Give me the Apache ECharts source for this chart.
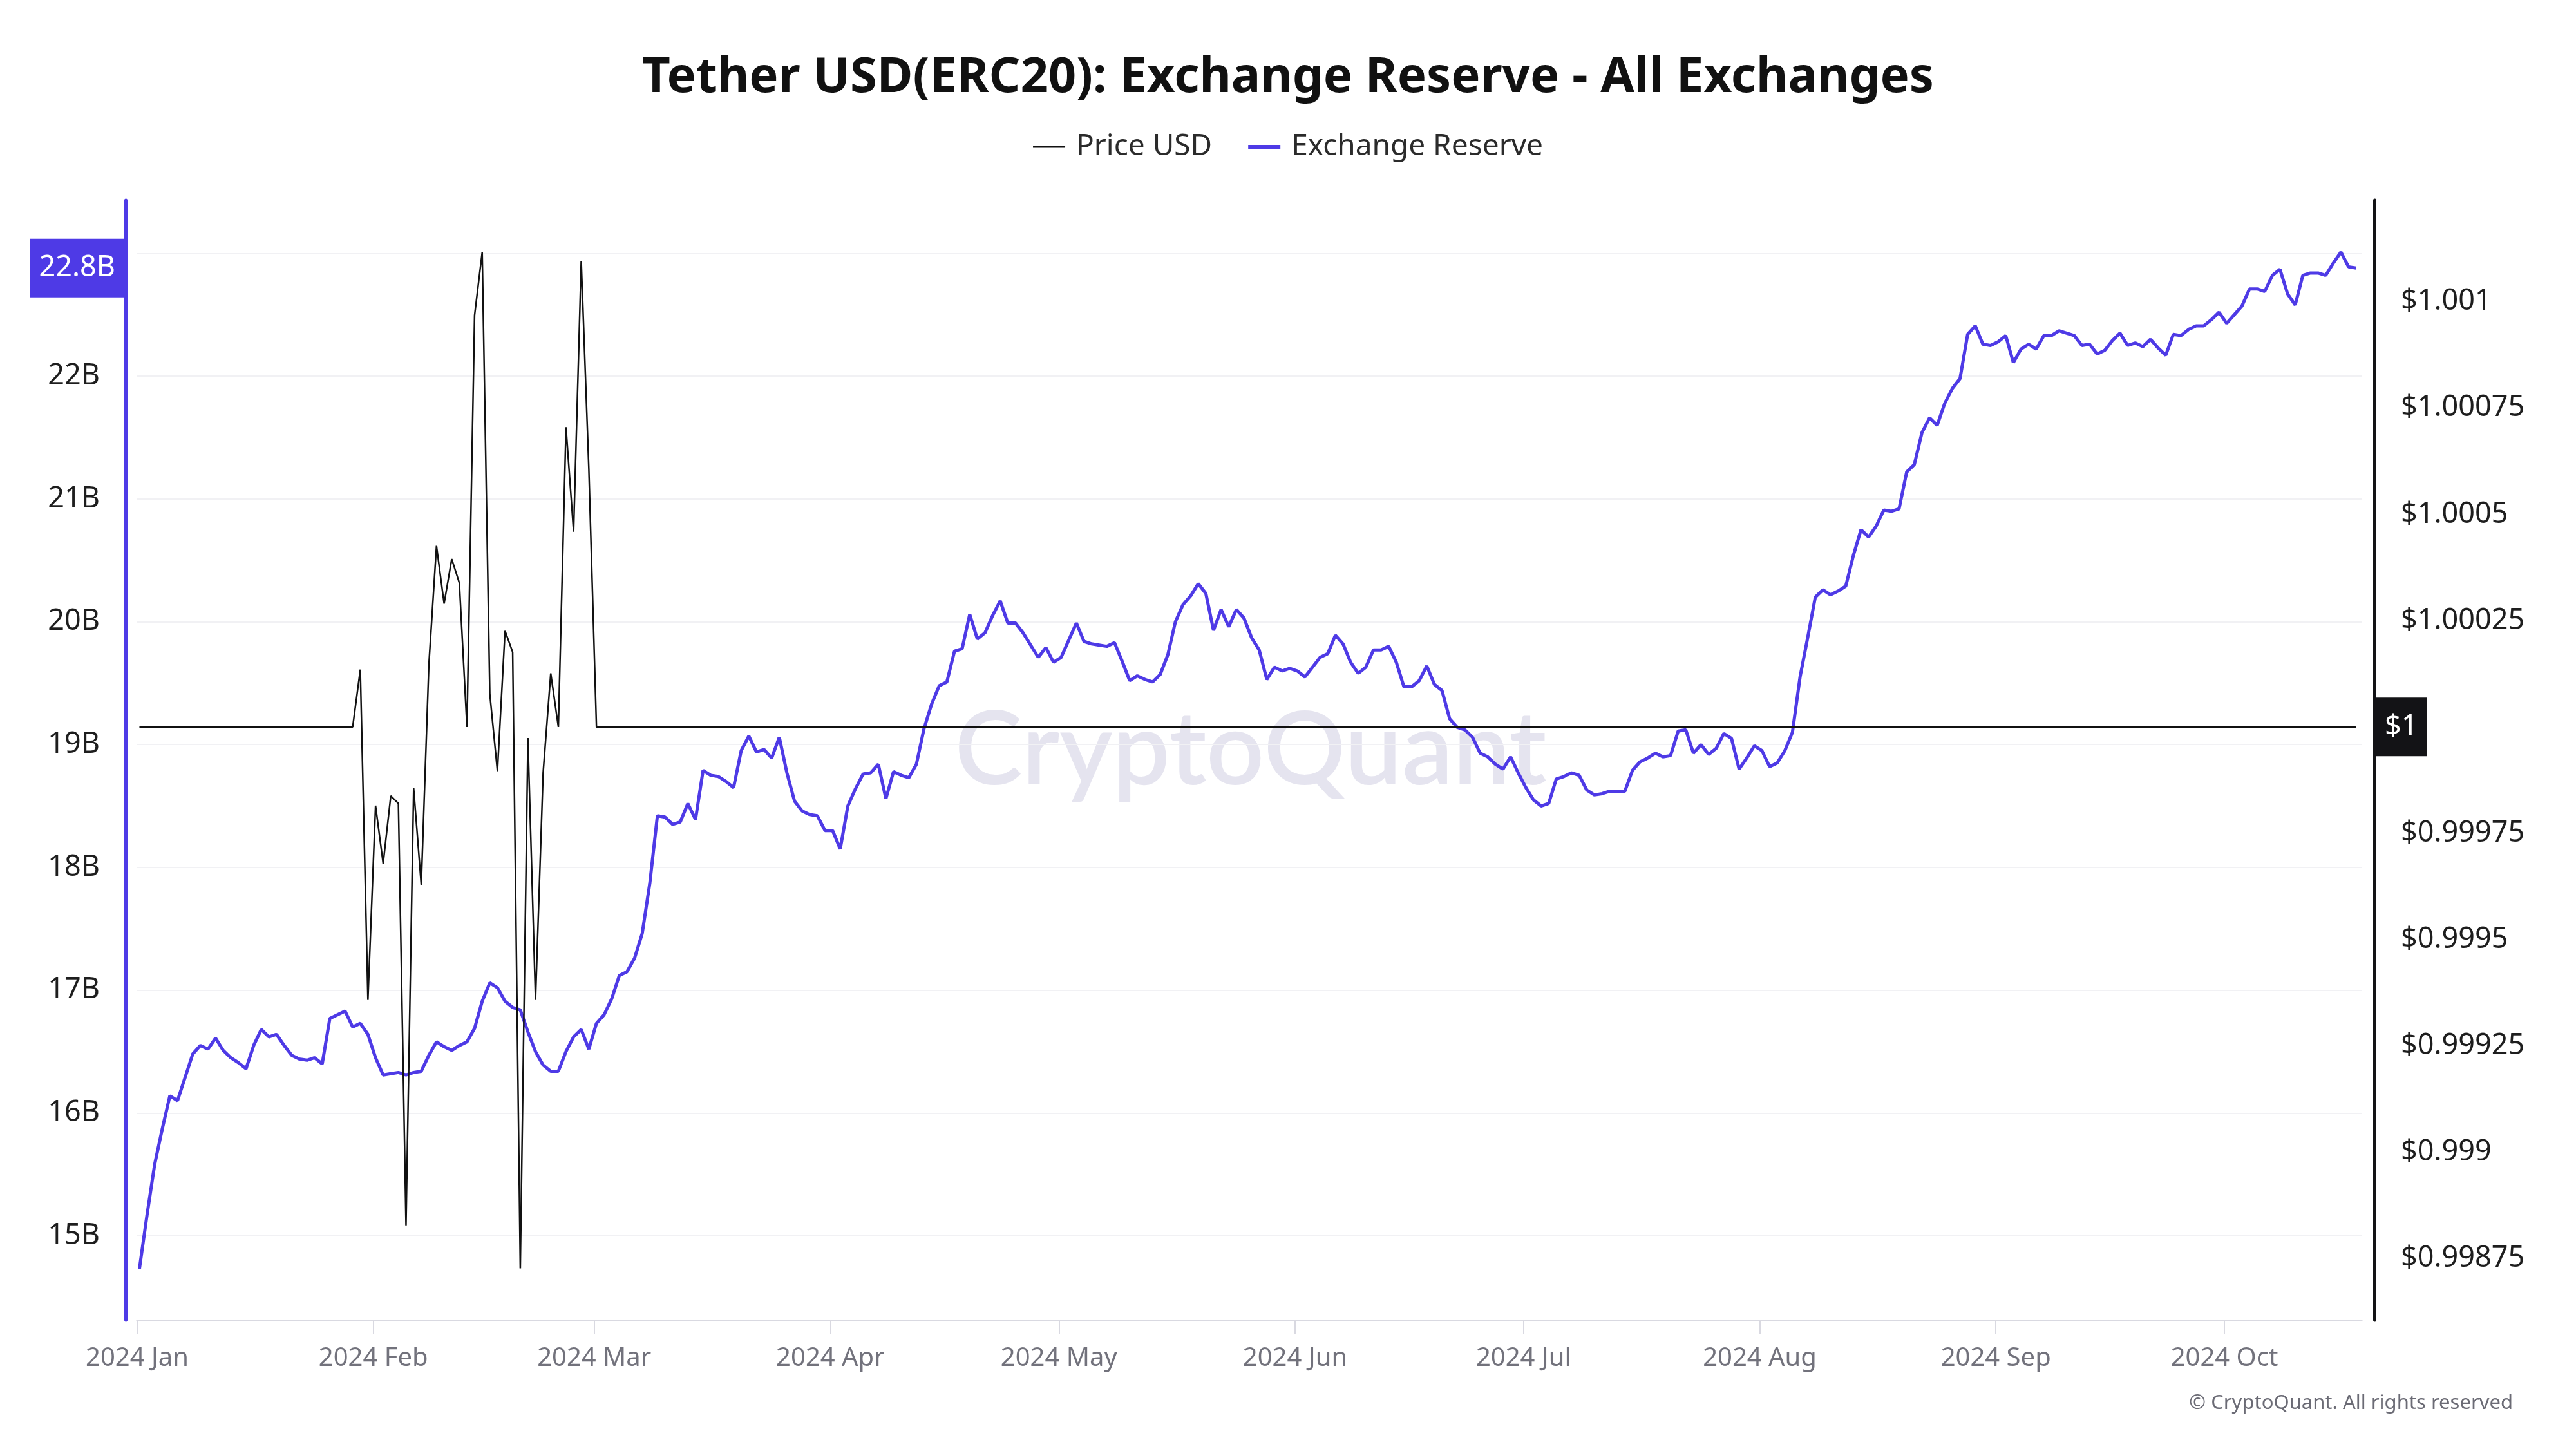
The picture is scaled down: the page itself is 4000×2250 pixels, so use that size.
<!DOCTYPE html>
<html>
<head>
<meta charset="utf-8">
<script src="https://cdn.jsdelivr.net/npm/echarts@6/dist/echarts.min.js"></script>
<style>html,body{margin:0;padding:0;background:#fff}#c{width:4000px;height:2250px}</style>
</head>
<body>
<div id="c"></div>
<script>
const chartTitle = 'Tether USD(ERC20): Exchange Reserve - All Exchanges';
const seriesNames = ['Price USD', 'Exchange Reserve'];
const firstPoint = Date.UTC(2024, 0, 1, 7);   // daily points, 2024-01-01 .. 2024-10-18
const dayMs = 86400000;

// Exchange reserve, billions of USDT (one value per day)
const reserveB = [
  14.73, 15.17, 15.58, 15.87, 16.14, 16.10, 16.29, 16.48, 16.55, 16.52,
  16.61, 16.51, 16.45, 16.41, 16.36, 16.55, 16.68, 16.62, 16.64, 16.55,
  16.47, 16.44, 16.43, 16.45, 16.40, 16.77, 16.80, 16.83, 16.70, 16.73,
  16.64, 16.45, 16.31, 16.32, 16.33, 16.31, 16.33, 16.34, 16.47, 16.58,
  16.54, 16.51, 16.55, 16.58, 16.69, 16.91, 17.06, 17.02, 16.91, 16.86,
  16.84, 16.66, 16.50, 16.39, 16.34, 16.34, 16.50, 16.62, 16.68, 16.52,
  16.73, 16.80, 16.93, 17.12, 17.15, 17.26, 17.46, 17.87, 18.42, 18.41,
  18.35, 18.37, 18.52, 18.39, 18.79, 18.75, 18.74, 18.70, 18.65, 18.95,
  19.07, 18.94, 18.96, 18.89, 19.06, 18.77, 18.54, 18.46, 18.43, 18.42,
  18.30, 18.30, 18.15, 18.50, 18.64, 18.76, 18.77, 18.84, 18.56, 18.78,
  18.75, 18.73, 18.84, 19.13, 19.33, 19.48, 19.51, 19.76, 19.78, 20.06,
  19.86, 19.91, 20.05, 20.17, 19.99, 19.99, 19.91, 19.81, 19.71, 19.79,
  19.67, 19.71, 19.85, 19.99, 19.84, 19.82, 19.81, 19.80, 19.83, 19.68,
  19.52, 19.56, 19.53, 19.51, 19.57, 19.73, 20.00, 20.14, 20.21, 20.31,
  20.23, 19.93, 20.10, 19.96, 20.10, 20.03, 19.87, 19.77, 19.53, 19.63,
  19.60, 19.62, 19.60, 19.55, 19.63, 19.71, 19.74, 19.89, 19.82, 19.67,
  19.58, 19.63, 19.77, 19.77, 19.80, 19.67, 19.47, 19.47, 19.52, 19.64,
  19.49, 19.44, 19.21, 19.14, 19.12, 19.06, 18.93, 18.90, 18.84, 18.80,
  18.90, 18.77, 18.65, 18.55, 18.50, 18.52, 18.72, 18.74, 18.77, 18.75,
  18.63, 18.59, 18.60, 18.62, 18.62, 18.62, 18.79, 18.86, 18.89, 18.93,
  18.90, 18.91, 19.11, 19.12, 18.93, 19.00, 18.92, 18.97, 19.09, 19.05,
  18.80, 18.89, 18.99, 18.95, 18.82, 18.85, 18.95, 19.10, 19.55, 19.87,
  20.20, 20.26, 20.22, 20.25, 20.29, 20.54, 20.75, 20.69, 20.78, 20.91,
  20.90, 20.92, 21.22, 21.28, 21.54, 21.66, 21.60, 21.78, 21.90, 21.98,
  22.34, 22.41, 22.26, 22.25, 22.28, 22.33, 22.11, 22.22, 22.26, 22.22,
  22.33, 22.33, 22.37, 22.35, 22.33, 22.25, 22.26, 22.18, 22.21, 22.29,
  22.35, 22.25, 22.27, 22.24, 22.30, 22.23, 22.17, 22.34, 22.33, 22.38,
  22.41, 22.41, 22.46, 22.52, 22.43, 22.50, 22.57, 22.71, 22.71, 22.69,
  22.82, 22.87, 22.67, 22.58, 22.82, 22.84, 22.84, 22.82, 22.92, 23.01,
  22.89, 22.88
];

// USDT price in USD (one value per day)
const priceUSD = [
  1, 1, 1, 1, 1, 1, 1, 1, 1, 1, 1, 1, 1, 1, 1, 1, 1, 1, 1, 1,
  1, 1, 1, 1, 1, 1, 1, 1, 1, 1.000135, 0.999358, 0.999815, 0.999679, 0.999838, 0.99982, 0.998828, 0.999856, 0.999629, 1.000147, 1.000426,
  1.00029, 1.000395, 1.000339, 1, 1.000968, 1.001116, 1.000078, 0.999896, 1.000226, 1.000176, 0.998727, 0.999974, 0.999358, 0.999892, 1.000126, 1, 1.000705, 1.000459, 1.001096, 1.000607,
  1, 1, 1, 1, 1, 1, 1, 1, 1, 1, 1, 1, 1, 1, 1, 1, 1, 1, 1, 1,
  1, 1, 1, 1, 1, 1, 1, 1, 1, 1, 1, 1, 1, 1, 1, 1, 1, 1, 1, 1,
  1, 1, 1, 1, 1, 1, 1, 1, 1, 1, 1, 1, 1, 1, 1, 1, 1, 1, 1, 1,
  1, 1, 1, 1, 1, 1, 1, 1, 1, 1, 1, 1, 1, 1, 1, 1, 1, 1, 1, 1,
  1, 1, 1, 1, 1, 1, 1, 1, 1, 1, 1, 1, 1, 1, 1, 1, 1, 1, 1, 1,
  1, 1, 1, 1, 1, 1, 1, 1, 1, 1, 1, 1, 1, 1, 1, 1, 1, 1, 1, 1,
  1, 1, 1, 1, 1, 1, 1, 1, 1, 1, 1, 1, 1, 1, 1, 1, 1, 1, 1, 1,
  1, 1, 1, 1, 1, 1, 1, 1, 1, 1, 1, 1, 1, 1, 1, 1, 1, 1, 1, 1,
  1, 1, 1, 1, 1, 1, 1, 1, 1, 1, 1, 1, 1, 1, 1, 1, 1, 1, 1, 1,
  1, 1, 1, 1, 1, 1, 1, 1, 1, 1, 1, 1, 1, 1, 1, 1, 1, 1, 1, 1,
  1, 1, 1, 1, 1, 1, 1, 1, 1, 1, 1, 1, 1, 1, 1, 1, 1, 1, 1, 1,
  1, 1, 1, 1, 1, 1, 1, 1, 1, 1, 1, 1
];

const leftTicks = [15, 16, 17, 18, 19, 20, 21, 22, 23];
const leftLabelTicks = [15, 16, 17, 18, 19, 20, 21, 22];   // 23B sits under the last-value tag
const leftTickLabels = ['15B', '16B', '17B', '18B', '19B', '20B', '21B', '22B', '23B'];
const rightLabelTicks = [0.99875, 0.999, 0.99925, 0.9995, 0.99975, 1.00025, 1.0005, 1.00075, 1.001]; // $1 sits under the tag
const rightTicks = [0.99875, 0.999, 0.99925, 0.9995, 0.99975, 1, 1.00025, 1.0005, 1.00075, 1.001];
const rightTickLabels = ['$0.99875', '$0.999', '$0.99925', '$0.9995', '$0.99975', '$1', '$1.00025', '$1.0005', '$1.00075', '$1.001'];
const monthTicks = ['2024-01-01', '2024-02-01', '2024-03-01', '2024-04-01', '2024-05-01', '2024-06-01', '2024-07-01', '2024-08-01', '2024-09-01', '2024-10-01'];
const monthLabels = ['2024 Jan', '2024 Feb', '2024 Mar', '2024 Apr', '2024 May', '2024 Jun', '2024 Jul', '2024 Aug', '2024 Sep', '2024 Oct'];
const xRange = ['2024-01-01', '2024-10-19'];
const watermarkText = 'CryptoQuant';
const copyrightText = '\u00A9 CryptoQuant. All rights reserved';

const PURPLE = '#4e3ae6';
const FONT = '"Noto Sans", sans-serif';

const reserveData = reserveB.map((v, i) => [firstPoint + i * dayMs, v]);
const priceData = priceUSD.map((v, i) => [firstPoint + i * dayMs, v]);
const monthTs = monthTicks.map(s => Date.parse(s));
const lastReserve = reserveB[reserveB.length - 1];
const lastPrice = priceUSD[priceUSD.length - 1];

function labelFor(list, labels, v) {
  let best = 0, bd = Infinity;
  list.forEach((t, i) => { const d = Math.abs(t - v); if (d < bd) { bd = d; best = i; } });
  return labels[best];
}

const chart = echarts.init(document.getElementById('c'), null, { renderer: 'canvas' });
chart.setOption({
  backgroundColor: '#ffffff',
  animation: false,
  title: {
    text: chartTitle, left: 'center', top: 78,
    textStyle: { fontFamily: FONT, fontSize: 76, fontWeight: 'bold', color: '#111111' }
  },
  legend: {
    top: 200, left: 'center', itemWidth: 50, itemHeight: 30, itemGap: 56,
    textStyle: { fontFamily: FONT, fontSize: 46, color: '#2b2b2b', padding: [0, 0, 0, 12] },
    data: [
      { name: seriesNames[0], icon: 'path://M0,0L50,0L50,3L0,3Z' },
      { name: seriesNames[1], icon: 'path://M0,0L50,0L50,6L0,6Z' }
    ]
  },
  grid: { left: 213, right: 333, top: 311, bottom: 200, containLabel: false, outerBoundsMode: 'none' },
  graphic: [
    {
      type: 'text', z: -10, silent: true,
      style: { text: watermarkText, x: 1942, y: 1167, align: 'center', verticalAlign: 'middle',
               fontFamily: 'Lato, ' + FONT, fontSize: 158, fontWeight: 600, fill: 'rgba(215,213,230,0.65)' }
    },
    {
      type: 'text', right: 98, top: 2164, silent: true,
      style: { text: copyrightText, fontFamily: FONT, fontSize: 31, fill: '#6b6b75' }
    }
  ],
  xAxis: {
    type: 'value',
    min: Date.parse(xRange[0]), max: Date.parse(xRange[1]),
    axisLine: { show: true, onZero: false, lineStyle: { color: '#d9d9e1', width: 3 } },
    axisTick: { show: true, length: 22, customValues: monthTs, lineStyle: { color: '#d9d9e1', width: 2 } },
    axisLabel: {
      customValues: monthTs, margin: 40, fontFamily: FONT, fontSize: 40, color: '#72727c',
      formatter: v => labelFor(monthTs, monthLabels, v)
    },
    splitLine: { show: false }
  },
  yAxis: [
    {
      type: 'value', position: 'left', offset: 18, min: 14.313, max: 23.432,
      axisLine: { show: true, lineStyle: { color: PURPLE, width: 5 } },
      axisTick: { show: false, customValues: leftTicks },
      axisLabel: {
        customValues: leftLabelTicks, margin: 40, fontFamily: FONT, fontSize: 45, color: '#1e1e1e',
        formatter: v => labelFor(leftTicks, leftTickLabels, v)
      },
      splitLine: { show: true, lineStyle: { color: '#f1f1f4', width: 2 } }
    },
    {
      type: 'value', position: 'right', offset: 20, min: 0.998605, max: 1.0012386,
      axisLine: { show: true, lineStyle: { color: '#131316', width: 5 } },
      axisTick: { show: false },
      axisLabel: {
        customValues: rightLabelTicks, margin: 41, fontFamily: FONT, fontSize: 45, color: '#1e1e1e',
        formatter: v => labelFor(rightTicks, rightTickLabels, v)
      },
      splitLine: { show: false }
    }
  ],
  series: [
    {
      name: seriesNames[0], type: 'line', yAxisIndex: 1, data: priceData,
      showSymbol: false, symbol: 'none', z: 3, clip: false,
      lineStyle: { color: '#111111', width: 2.5 }, itemStyle: { color: '#111111' },
      markLine: {
        silent: true, symbol: 'none', animation: false,
        lineStyle: { color: 'rgba(0,0,0,0)', width: 1, type: 'solid' },
        label: {
          show: true, position: 'end', distance: 22, backgroundColor: '#131316', color: '#ffffff',
          opacity: 1, fontFamily: FONT, fontSize: 45, padding: [23, 14, 23, 14],
          formatter: p => labelFor(rightTicks, rightTickLabels, p.value)
        },
        data: [{ yAxis: lastPrice }]
      }
    },
    {
      name: seriesNames[1], type: 'line', yAxisIndex: 0, data: reserveData,
      showSymbol: false, symbol: 'none', z: 2, clip: false,
      lineStyle: { color: PURPLE, width: 5 }, itemStyle: { color: PURPLE },
      markLine: {
        silent: true, symbol: 'none', animation: false,
        lineStyle: { color: 'rgba(0,0,0,0)', width: 1, type: 'solid' },
        label: {
          show: true, position: 'start', distance: 20, backgroundColor: PURPLE, color: '#ffffff',
          opacity: 1, fontFamily: FONT, fontSize: 45, padding: [23, 14, 23, 14],
          formatter: p => (Math.floor(p.value * 10) / 10).toFixed(1) + 'B'
        },
        data: [{ yAxis: lastReserve }]
      }
    }
  ]
});
</script>
</body>
</html>
